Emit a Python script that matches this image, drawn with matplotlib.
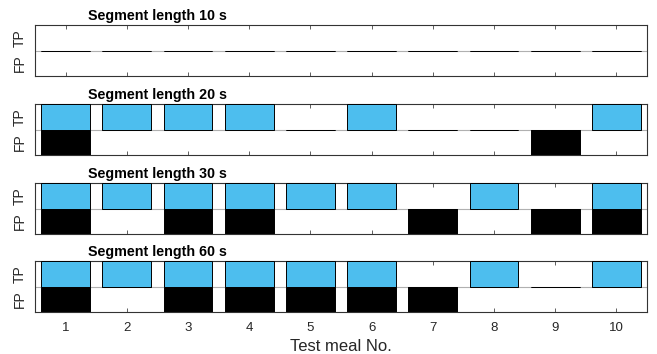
import matplotlib
matplotlib.use("Agg")
import matplotlib.pyplot as plt
import numpy as np

plt.rcParams['font.family'] = ['Liberation Sans', 'DejaVu Sans']

meals = np.arange(1, 11)
segments = ["10 s", "20 s", "30 s", "60 s"]
tp = {
    "10 s": [0, 0, 0, 0, 0, 0, 0, 0, 0, 0],
    "20 s": [1, 1, 1, 1, 0, 1, 0, 0, 0, 1],
    "30 s": [1, 1, 1, 1, 1, 1, 0, 1, 0, 1],
    "60 s": [1, 1, 1, 1, 1, 1, 0, 1, 0, 1],
}
fp = {
    "10 s": [0, 0, 0, 0, 0, 0, 0, 0, 0, 0],
    "20 s": [1, 0, 0, 0, 0, 0, 0, 0, 1, 0],
    "30 s": [1, 0, 1, 1, 0, 0, 1, 0, 1, 1],
    "60 s": [1, 0, 1, 1, 1, 1, 1, 0, 0, 0],
}

blue = "#4DBEEE"
W, H = 657, 354
fig = plt.figure(figsize=(W / 100, H / 100), dpi=100)

left, right = 35, 647
tops = [25, 104, 183, 261]
height = 51

axes = []
for i, seg in enumerate(segments):
    ax = fig.add_axes([left / W, 1 - (tops[i] + height) / H,
                       (right - left) / W, height / H])
    axes.append(ax)
    ax.axhline(0, color="#B0B0B0", lw=0.8, zorder=1)
    # false positives hang below the centre line
    ax.bar(meals, [-v for v in fp[seg]], width=0.8, bottom=0, color="black",
           edgecolor="black", linewidth=0.7, zorder=2)
    # true positives rise above it
    ax.bar(meals, tp[seg], width=0.8, bottom=0, color=blue,
           edgecolor="black", linewidth=0.7, zorder=3)
    ax.set_xlim(0.5, 10.5)
    ax.set_ylim(-1, 1)
    ax.set_xticks(meals)
    ax.set_yticks([0.5, -0.5])
    ax.set_yticklabels(["TP", "FP"], rotation=90, va="center", fontsize=10,
                       color="#262626")
    ax.tick_params(axis="y", length=0, pad=6)
    ax.tick_params(axis="x", direction="in", top=True, bottom=True,
                   length=3, width=0.6, color="#444444", labelsize=9.5,
                   labelcolor="#262626", pad=7)
    for s in ax.spines.values():
        s.set_color("#333333")
        s.set_linewidth(0.8)
    if i < 3:
        ax.set_xticklabels([])
    ax.text(0.2, 1.03, f"Segment length {seg}", transform=ax.transAxes,
            ha="center", va="bottom", fontsize=10.3, fontweight="bold")

axes[-1].set_xlabel("Test meal No.", fontsize=12, labelpad=4, color="#262626")

fig.savefig("out.png", dpi=100)
